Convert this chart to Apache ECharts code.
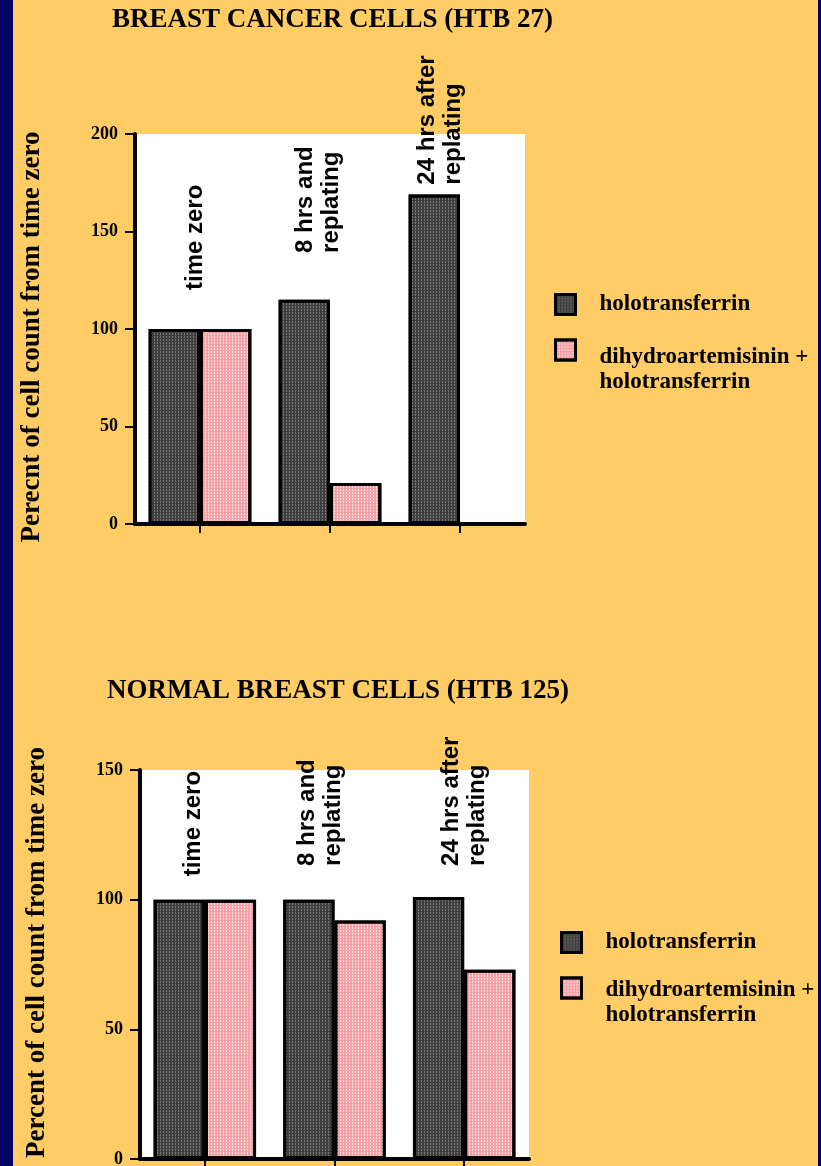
<!DOCTYPE html>
<html>
<head>
<meta charset="utf-8">
<title>HTB 27 / HTB 125</title>
<script src="https://cdn.jsdelivr.net/npm/echarts@6/dist/echarts.min.js"></script>
<style>
  html, body { margin: 0; padding: 0; background: #000066; }
  #chart { position: absolute; left: 13px; top: 0; width: 805px; height: 1166px; }
</style>
</head>
<body>
<div id="chart"></div>
<script>
// categories and series
const categories = ['time zero', '8 hrs and\nreplating', '24 hrs after\nreplating'];
const seriesNames = ['holotransferrin', 'dihydroartemisinin +\nholotransferrin'];

// breast cancer cells (HTB 27)
const cancerHolo = [100, 115, 169];
const cancerDha = [100, 21, '-'];
const cancerTicks = [0, 50, 100, 150, 200];

// normal breast cells (HTB 125)
const normalHolo = [100, 100, 101];
const normalDha = [100, 92, 73];
const normalTicks = [0, 50, 100, 150];

// where the rotated category captions start (value units) and their sideways shift (px)
const cancerCaptionBase = [120, 139, 174];
const cancerCaptionShift = [-5, -12, -20];
const normalCaptionBase = [109, 113, 113];
const normalCaptionShift = [-11, -14, 0];

const serif = 'Liberation Serif, Times New Roman, serif';
const sans = 'Liberation Sans, Arial, sans-serif';

const darkDecal = {
  symbol: 'rect', symbolSize: 1, color: 'rgba(135,135,135,0.8)',
  dashArrayX: [1, 2], dashArrayY: [2, 1], rotation: 0
};
const pinkDecal = {
  symbol: 'rect', symbolSize: 1, color: 'rgba(255,232,232,0.85)',
  dashArrayX: [1, 2], dashArrayY: [2, 1], rotation: 0
};

function xAxisFor(i) {
  return {
    type: 'category',
    gridIndex: i,
    data: categories,
    axisLine: { lineStyle: { color: '#000', width: 4 } },
    axisTick: { show: true, alignWithLabel: true, length: 9, lineStyle: { color: '#000', width: 2 } },
    axisLabel: { show: false }
  };
}

// namePad nudges the rotated axis title along the axis
function yAxisFor(i, ticks, name, namePad) {
  return {
    type: 'value',
    gridIndex: i,
    min: ticks[0],
    max: ticks[ticks.length - 1],
    interval: ticks[1] - ticks[0],
    axisLine: { show: true, lineStyle: { color: '#000', width: 4 } },
    axisTick: { show: true, length: 10, lineStyle: { color: '#000', width: 2 } },
    splitLine: { show: false },
    axisLabel: { color: '#000', fontFamily: serif, fontWeight: 'bold', fontSize: 18, margin: 17 },
    name: name,
    nameLocation: 'middle',
    nameGap: 89,
    nameTextStyle: { color: '#000', fontFamily: serif, fontWeight: 'bold', fontSize: 27, padding: namePad }
  };
}

function barsFor(i, holo, dha) {
  return [
    {
      name: seriesNames[0], type: 'bar', xAxisIndex: i, yAxisIndex: i, data: holo,
      barGap: '0%', barCategoryGap: '21%',
      itemStyle: { color: '#3e3e3e', borderColor: '#000', borderWidth: 3, decal: darkDecal }
    },
    {
      name: seriesNames[1], type: 'bar', xAxisIndex: i, yAxisIndex: i, data: dha,
      barGap: '0%', barCategoryGap: '21%',
      itemStyle: { color: '#f4a2a8', borderColor: '#000', borderWidth: 3, decal: pinkDecal }
    }
  ];
}

function captionsFor(i, base, shift) {
  return {
    type: 'scatter', xAxisIndex: i, yAxisIndex: i, symbolSize: 0, silent: true, z: 10,
    itemStyle: { opacity: 1 },
    data: categories.map((c, k) => ({ value: [k, base[k]], label: { offset: [0, shift[k]] } })),
    label: {
      show: true, position: 'inside', rotate: 90, align: 'left', verticalAlign: 'middle',
      formatter: p => categories[p.dataIndex],
      color: '#000', opacity: 1, fontFamily: sans, fontWeight: 'bold', fontSize: 24, lineHeight: 26
    }
  };
}

// legend entry; `lead` is an empty first line that pushes the text below the box
function legendFor(name, left, top, lead) {
  return {
    left: left, top: top, padding: 0, selectedMode: false,
    itemWidth: 20, itemHeight: 20, icon: 'rect',
    data: [name],
    itemStyle: { borderWidth: 3, borderColor: '#000' },
    formatter: n => (lead ? '{s| }\n' : '') + n.split('\n').map(t => '{a|' + t + '}').join('\n'),
    textStyle: {
      padding: [0, 0, 0, 19],
      rich: {
        a: { color: '#000', fontFamily: serif, fontWeight: 'bold', fontSize: 23, lineHeight: 25 },
        s: { fontSize: 10, lineHeight: lead || 1 }
      }
    }
  };
}

const titleStyle = { color: '#000', fontFamily: serif, fontWeight: 'bold', fontSize: 27 };

const option = {
  backgroundColor: '#FFCC66',
  animation: false,
  title: [
    { text: 'BREAST CANCER CELLS (HTB 27)', left: 99, top: 7, padding: 0, textStyle: titleStyle },
    { text: 'NORMAL BREAST CELLS (HTB 125)', left: 94, top: 678, padding: 0, textStyle: titleStyle }
  ],
  legend: [
    legendFor(seriesNames[0], 541, 293, 0),
    legendFor(seriesNames[1], 541, 320, 40),
    legendFor(seriesNames[0], 547, 931, 0),
    legendFor(seriesNames[1], 547, 958, 30)
  ],
  grid: [
    { left: 122, top: 134, width: 390, height: 390, show: true, backgroundColor: '#fff', borderWidth: 0, outerBoundsMode: 'none' },
    { left: 127, top: 770, width: 389, height: 389, show: true, backgroundColor: '#fff', borderWidth: 0, outerBoundsMode: 'none' }
  ],
  xAxis: [xAxisFor(0), xAxisFor(1)],
  yAxis: [
    yAxisFor(0, cancerTicks, 'Perecnt of cell count from time zero', [0, 16, 0, 0]),
    yAxisFor(1, normalTicks, 'Percent of cell count from time zero', [0, 0, 0, 24])
  ],
  series: [].concat(
    barsFor(0, cancerHolo, cancerDha),
    barsFor(1, normalHolo, normalDha),
    [captionsFor(0, cancerCaptionBase, cancerCaptionShift),
     captionsFor(1, normalCaptionBase, normalCaptionShift)]
  )
};

const myChart = echarts.init(document.getElementById('chart'));
myChart.setOption(option);
</script>
</body>
</html>
